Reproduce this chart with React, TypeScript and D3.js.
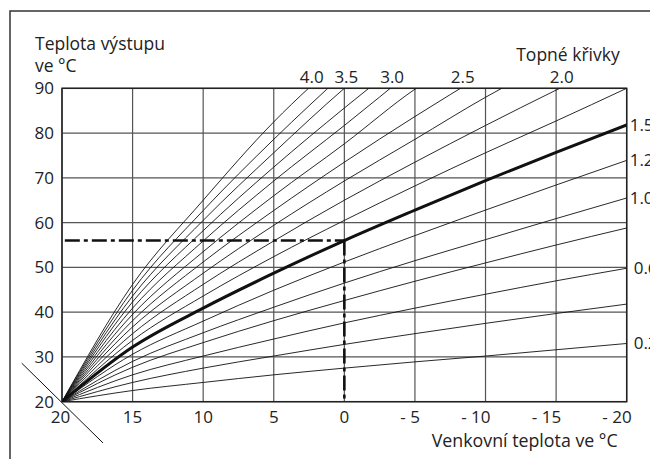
import React from "react";
import * as d3 from "d3";

// ---- data ----
const outdoorTemps = [20, 15, 10, 5, 0, -5, -10, -15, -20];
const flowTicks = [20, 30, 40, 50, 60, 70, 80, 90];

const curve02 = [20, 22.5, 24.3, 26.0, 27.5, 28.9, 30.2, 31.6, 33.0];
const curve04 = [20, 24.3, 27.5, 30.2, 32.8, 35.2, 37.5, 39.7, 41.8];
const curve06 = [20, 26.0, 30.2, 34.0, 37.6, 40.9, 44.0, 47.0, 49.8];
const curve08 = [20, 27.7, 33.2, 38.1, 42.6, 46.9, 51.0, 55.0, 58.8];
const curve10 = [20, 29.0, 35.4, 41.1, 46.5, 51.5, 56.2, 60.9, 65.5];
const curve12 = [20, 30.6, 38.0, 44.9, 51.2, 57.1, 62.8, 68.4, 73.9];
const curve15 = [20, 32.2, 40.9, 48.7, 56.0, 62.8, 69.4, 75.7, 81.8];
const curve175 = [20, 33.7, 43.6, 52.4, 60.5, 68.2, 75.6, 82.7, 90.0];
const curve20 = [20, 35.2, 46.2, 55.9, 65.0, 73.5, 81.7, 89.6, 97.2];
const curve225 = [20, 36.7, 48.7, 59.4, 69.3, 78.6, 88.0, 96.3];
const curve25 = [20, 38.1, 51.2, 62.7, 73.5, 83.7, 93.4];
const curve275 = [20, 39.5, 53.5, 66.0, 77.6, 89.8, 99.1];
const curve30 = [20, 40.9, 55.9, 69.3, 81.7, 94.5];
const curve325 = [20, 42.3, 58.2, 72.4, 85.6, 98.2];
const curve35 = [20, 43.6, 60.5, 75.6, 90.0, 102.8];
const curve375 = [20, 44.9, 62.7, 78.6, 93.4];
const curve40 = [20, 46.2, 65.0, 82.5, 97.2];

const curveNames = ["0.2", "0.4", "0.6", "0.8", "1.0", "1.2", "1.5", "1.75", "2.0", "2.25", "2.5", "2.75", "3.0", "3.25", "3.5", "3.75", "4.0"];
const curveValues = [curve02, curve04, curve06, curve08, curve10, curve12, curve15, curve175, curve20, curve225, curve25, curve275, curve30, curve325, curve35, curve375, curve40];
const boldCurve = "1.5";
const topLabels = ["4.0", "3.5", "3.0", "2.5", "2.0"];
const rightLabels = ["1.5", "1.2", "1.0", "0.6", "0.2"];

const refOutdoor = 0;
const refFlow = 56;
const refStartOutdoor = 19.8;
const diagonal = [[22.85, 28.6], [17.1, 10.8]];

const yTitle1 = "Teplota výstupu";
const yTitle2 = "ve °C";
const xTitle = "Venkovní teplota ve °C";
const curvesTitle = "Topné křivky";

// ---- layout ----
const W = 650, H = 459;
const L = 62, R = 626.7, T = 88.3, B = 401.7;
const FONT = "'Open Sans', sans-serif";
const TXT = "#222";

export default function App() {
  const x = d3.scaleLinear().domain([20, -20]).range([L, R]);
  const y = d3.scaleLinear().domain([20, 90]).range([B, T]);
  const line = d3
    .line<[number, number]>()
    .x((d) => x(d[0]))
    .y((d) => y(d[1]))
    .curve(d3.curveMonotoneX);

  const curves = curveNames.map((name, i) => ({
    name,
    pts: curveValues[i].map((v, j) => [outdoorTemps[j], v] as [number, number]),
  }));

  const crossTop = (pts: [number, number][]) => {
    for (let i = 1; i < pts.length; i++) {
      if (pts[i][1] >= 90) {
        const [x0, y0] = pts[i - 1];
        const [x1, y1] = pts[i];
        return x0 + ((90 - y0) / (y1 - y0)) * (x1 - x0);
      }
    }
    return pts[pts.length - 1][0];
  };

  const tickLabel = (v: number) => (v < 0 ? `- ${Math.abs(v)}` : `${v}`);

  return (
    <svg
      width={W}
      height={H}
      style={{ position: "absolute", left: 0, top: 0, background: "#fff" }}
      fontFamily={FONT}
    >
      <defs>
        <clipPath id="plot">
          <rect x={L} y={T} width={R - L} height={B - T} />
        </clipPath>
      </defs>
      <rect x={0} y={0} width={W} height={H} fill="#fff" />
      {/* outer frame */}
      <rect x={10} y={11} width={W + 50} height={H + 50} fill="none" stroke="#333" strokeWidth={1.5} />

      {/* grid */}
      {outdoorTemps.map((t) => (
        <line key={"v" + t} x1={x(t)} x2={x(t)} y1={T} y2={B} stroke="#555" strokeWidth={1.2} />
      ))}
      {flowTicks.map((t) => (
        <line key={"h" + t} x1={L} x2={R} y1={y(t)} y2={y(t)} stroke="#555" strokeWidth={1.2} />
      ))}
      <rect x={L} y={T} width={R - L} height={B - T} fill="none" stroke="#222" strokeWidth={1.5} />

      {/* curves */}
      <g clipPath="url(#plot)">
        {curves.map((c) => (
          <path
            key={c.name}
            d={line(c.pts) || ""}
            fill="none"
            stroke="#111"
            strokeWidth={c.name === boldCurve ? 3 : 0.9}
          />
        ))}
      </g>

      {/* reference dash-dot */}
      <line
        x1={x(refStartOutdoor)}
        x2={x(refOutdoor)}
        y1={y(refFlow)}
        y2={y(refFlow)}
        stroke="#111"
        strokeWidth={2.6}
        strokeDasharray="15,4,4,4"
      />
      <line
        x1={x(refOutdoor)}
        x2={x(refOutdoor)}
        y1={y(refFlow)}
        y2={y(20)}
        stroke="#111"
        strokeWidth={2.6}
        strokeDasharray="15,4,4,4"
      />

      {/* diagonal */}
      <line
        x1={x(diagonal[0][0])}
        y1={y(diagonal[0][1])}
        x2={x(diagonal[1][0])}
        y2={y(diagonal[1][1])}
        stroke="#111"
        strokeWidth={1}
      />

      {/* y tick labels */}
      {flowTicks.map((t) => (
        <text key={"yl" + t} x={L - 8} y={y(t) + 6} textAnchor="end" fontSize={17} fill={TXT}>
          {t}
        </text>
      ))}
      {/* x tick labels */}
      {outdoorTemps.map((t) => (
        <text
          key={"xl" + t}
          x={t < 0 ? x(t) + 5 : x(t) - (t === 20 ? 1.5 : 0)}
          y={B + 21}
          textAnchor={t < 0 ? "end" : "middle"}
          fontSize={17}
          fill={TXT}
        >
          {tickLabel(t)}
        </text>
      ))}

      {/* titles */}
      <text x={35} y={50} fontSize={17.5} fill={TXT}>{yTitle1}</text>
      <text x={35} y={72} fontSize={17.5} fill={TXT}>{yTitle2}</text>
      <text x={R - 9} y={B + 45} textAnchor="end" fontSize={17.8} fill={TXT}>{xTitle}</text>
      <text x={R - 7} y={61} textAnchor="end" fontSize={17.5} fill={TXT}>{curvesTitle}</text>

      {/* curve labels top */}
      {curves
        .filter((c) => topLabels.includes(c.name))
        .map((c) => (
          <text key={"tl" + c.name} x={x(crossTop(c.pts)) + 2} y={T - 5} textAnchor="middle" fontSize={17} fill={TXT}>
            {c.name}
          </text>
        ))}
      {/* curve labels right */}
      {curves
        .filter((c) => rightLabels.includes(c.name))
        .map((c) => {
          const last = c.pts[c.pts.length - 1];
          return (
            <text
              key={"rl" + c.name}
              x={R + (c.name.startsWith("0") ? 7 : 3)}
              y={y(last[1]) + 6}
              fontSize={17}
              fill={TXT}
            >
              {c.name}
            </text>
          );
        })}
    </svg>
  );
}
